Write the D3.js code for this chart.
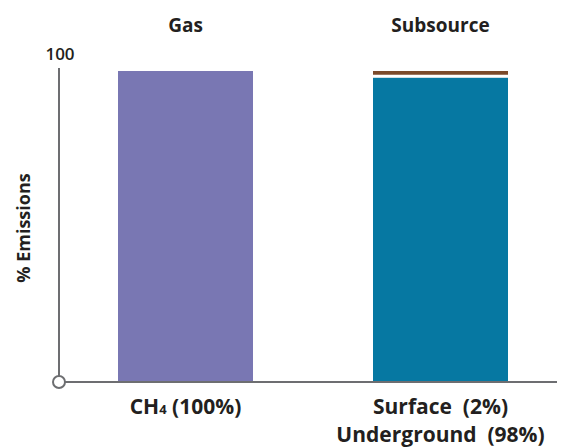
<!DOCTYPE html>
<html><head><meta charset="utf-8">
<script src="https://cdn.jsdelivr.net/npm/d3@7"></script>
<style>body{margin:0;background:#fff}svg{display:block}text{font-family:"Open Sans",sans-serif;fill:#231f20}</style>
</head><body><svg id="c" width="561" height="448"></svg>
<script>
const categories = ["Gas", "Subsource"];
const gasValues = [{cat:"Gas", name:"CH4", value:100}];
const subsourceValues = [{cat:"Subsource", name:"Surface", value:2}, {cat:"Subsource", name:"Underground", value:98}];
const yTicks = [100];
const colors = {CH4:"#7977b3", Surface:"#7b4a2b", Underground:"#0678a2"};

const svg = d3.select("#c");
const x = d3.scaleBand().domain(categories).range([58, 568]).paddingInner(120/255).paddingOuter(60/255);
const y = d3.scaleLinear().domain([0, 100]).range([381, 71]);

const stackOrder = ["Underground", "Surface"];
const segs = [];
let acc = 0;
gasValues.forEach(d => segs.push({...d, y0:0, y1:d.value}));
stackOrder.forEach(n => { const d = subsourceValues.find(v => v.name === n); segs.push({...d, y0:acc, y1:acc + d.value}); acc += d.value; });

svg.selectAll("rect.bar").data(segs).enter().append("rect").attr("class","bar")
  .attr("x", d => x(d.cat)).attr("width", x.bandwidth())
  .attr("y", d => y(d.y1)).attr("height", d => y(d.y0) - y(d.y1))
  .attr("fill", d => colors[d.name]);
// white separator between stacked segments
svg.append("line").attr("x1", x("Subsource")).attr("x2", x("Subsource") + x.bandwidth())
  .attr("y1", y(100 - subsourceValues[0].value) - 1).attr("y2", y(100 - subsourceValues[0].value) - 1)
  .attr("stroke", "#fff").attr("stroke-width", 3);

const axisColor = "#6d6e71";
svg.append("line").attr("x1", 59).attr("x2", 59).attr("y1", 68).attr("y2", y(0)).attr("stroke", axisColor).attr("stroke-width", 2);
svg.append("line").attr("x1", 59).attr("x2", 557).attr("y1", y(0) + 1).attr("y2", y(0) + 1).attr("stroke", axisColor).attr("stroke-width", 2);
svg.append("circle").attr("cx", 59).attr("cy", y(0) + 1).attr("r", 6).attr("fill", "#fff").attr("stroke", axisColor).attr("stroke-width", 2);

svg.selectAll("text.yt").data(yTicks).enter().append("text").attr("class","yt")
  .attr("x", 60).attr("y", d => y(d) - 11).attr("text-anchor","middle")
  .style("font-size","17px").style("font-weight","600").text(d => d);

svg.append("text").attr("transform","translate(30,228) rotate(-90)").attr("text-anchor","middle")
  .style("font-size","18px").style("font-weight","700").text("% Emissions");

svg.selectAll("text.title").data(categories).enter().append("text").attr("class","title")
  .attr("x", d => x(d) + x.bandwidth()/2).attr("y", 32).attr("text-anchor","middle")
  .style("font-size","19px").style("font-weight","700").text(d => d);

const g1 = svg.append("text").attr("x", x("Gas") + x.bandwidth()/2).attr("y", 414).attr("text-anchor","middle")
  .style("font-size","21px").style("font-weight","700");
g1.append("tspan").text("CH");
g1.append("tspan").style("font-size","13px").text("4");
g1.append("tspan").text(" (" + gasValues[0].value + "%)");

svg.selectAll("text.sub").data(subsourceValues).enter().append("text").attr("class","sub")
  .attr("x", x("Subsource") + x.bandwidth()/2).attr("y", (d,i) => 414 + i*28).attr("text-anchor","middle")
  .style("font-size","21px").style("font-weight","700")
  .text(d => d.name + "\u00a0 (" + d.value + "%)");
</script></body></html>
